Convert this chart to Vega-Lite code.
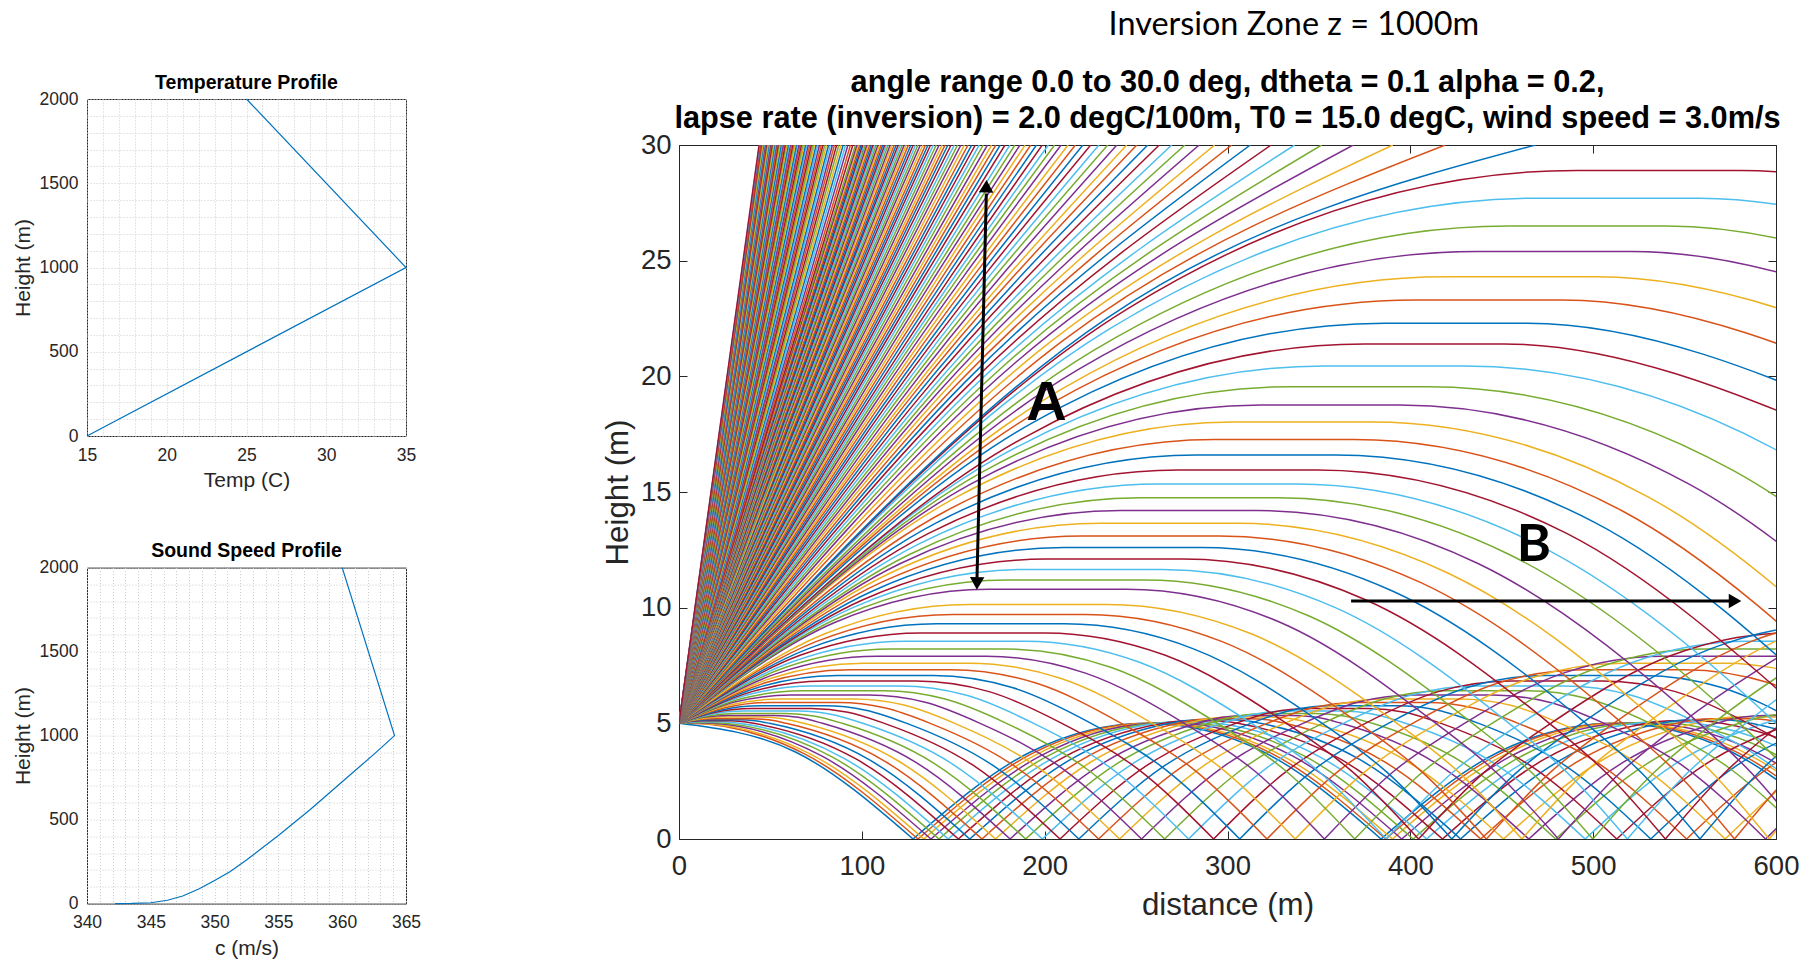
{
"$schema": "https://vega.github.io/schema/vega-lite/v6.json",
"background": "white",
"padding": {"left": 11, "top": 8, "right": 5, "bottom": 5},
"title": {"text": "Inversion Zone z = 1000m", "font": "Lato", "fontSize": 32.4, "fontWeight": "normal", "color": "black", "anchor": "start", "dx": 1097, "offset": 26},
"spacing": 179,
"config": {
  "view": {"stroke": "#262626", "strokeWidth": 1},
  "axis": {"labelFont": "Liberation Sans", "titleFont": "Liberation Sans", "labelColor": "#262626", "titleColor": "#262626", "titleFontWeight": "normal", "domain": false, "labelFlush": false, "labelOverlap": false, "tickColor": "#262626"},
  "title": {"font": "Liberation Sans", "color": "black"}
},
"hconcat": [
{"spacing": 49.6, "vconcat": [
 {"width": 319, "height": 337,
  "title": {"text": "Temperature Profile", "fontSize": 19.5, "fontWeight": "bold", "offset": -3},
  "data": {"values": [{"T":15,"h":0},{"T":35,"h":1000},{"T":25,"h":2000}]},
  "mark": {"type": "line", "color": "#0072BD", "strokeWidth": 1.2},
  "encoding": {
   "x": {"field":"T","type":"quantitative","scale":{"domain":[15,35],"nice":false,"zero":false},
    "axis":{"title":"Temp (C)","format":"d","values":[15,16,17,18,19,20,21,22,23,24,25,26,27,28,29,30,31,32,33,34,35],"labelExpr":"datum.value % 5 === 0 ? datum.label : ''","ticks":false,"grid":true,"gridColor":"#cccccc","gridDash":[1,2],"labelFontSize":17.5,"titleFontSize":21,"labelPadding":10,"titlePadding":6}},
   "y": {"field":"h","type":"quantitative","scale":{"domain":[0,2000],"nice":false},
    "axis":{"title":"Height (m)","format":"d","values":[0,100,200,300,400,500,600,700,800,900,1000,1100,1200,1300,1400,1500,1600,1700,1800,1900,2000],"labelExpr":"datum.value % 500 === 0 ? datum.label : ''","ticks":false,"grid":true,"gridColor":"#cccccc","gridDash":[1,2],"labelFontSize":17.5,"titleFontSize":21,"labelPadding":9,"titlePadding":6}},
   "order": {"field":"h","type":"quantitative"}
  }
 },
 {"width": 319, "height": 336,
  "title": {"text": "Sound Speed Profile", "fontSize": 19.5, "fontWeight": "bold", "offset": -3},
  "data": {"values": [{"c":342.2,"h":0},{"c":343.5,"h":1},{"c":345,"h":5},{"c":346.3,"h":20},{"c":347.5,"h":45},{"c":348.8,"h":88},{"c":350,"h":137},{"c":351.2,"h":190},{"c":352.5,"h":260},{"c":355,"h":405},{"c":357.5,"h":560},{"c":360,"h":725},{"c":362.5,"h":890},{"c":364.1,"h":1000},{"c":360,"h":2000}]},
  "mark": {"type": "line", "color": "#0072BD", "strokeWidth": 1.2},
  "encoding": {
   "x": {"field":"c","type":"quantitative","scale":{"domain":[340,365],"nice":false,"zero":false},
    "axis":{"title":"c (m/s)","format":"d","values":[340,341,342,343,344,345,346,347,348,349,350,351,352,353,354,355,356,357,358,359,360,361,362,363,364,365],"labelExpr":"datum.value % 5 === 0 ? datum.label : ''","ticks":false,"grid":true,"gridColor":"#cccccc","gridDash":[1,2],"labelFontSize":17.5,"titleFontSize":21,"labelPadding":10,"titlePadding":6}},
   "y": {"field":"h","type":"quantitative","scale":{"domain":[0,2000],"nice":false},
    "axis":{"title":"Height (m)","format":"d","values":[0,100,200,300,400,500,600,700,800,900,1000,1100,1200,1300,1400,1500,1600,1700,1800,1900,2000],"labelExpr":"datum.value % 500 === 0 ? datum.label : ''","ticks":false,"grid":true,"gridColor":"#cccccc","gridDash":[1,2],"labelFontSize":17.5,"titleFontSize":21,"labelPadding":9,"titlePadding":6}},
   "order": {"field":"h","type":"quantitative"}
  }
 }
]},
{"spacing": -4, "vconcat": [
 {"width": 1097, "height": 1, "view": {"stroke": null},
  "title": {"text": ["angle range 0.0 to 30.0 deg, dtheta = 0.1 alpha = 0.2,", "lapse rate (inversion) = 2.0 degC/100m, T0 = 15.0 degC, wind speed = 3.0m/s"], "orient": "bottom", "anchor": "middle", "fontSize": 30.7, "fontWeight": "bold", "lineHeight": 36, "offset": -36.6, "color": "black", "font": "Liberation Sans"},
  "data": {"values": [{"t": ""}]},
  "mark": {"type": "text"},
  "encoding": {"text": {"field": "t"}}
 },
 {"width": 1097, "height": 694,
 "resolve": {"axis": {"x": "independent", "y": "independent"}},
 "layer": [
  {"data": {"values": [
{"g":"0a","c":0,"x":[0,64,128],"y":[5,3.75,0]},
{"g":"0b","c":0,"x":[128,192,256,320,384],"y":[0,3.75,5,3.75,0]},
{"g":"0c","c":0,"x":[384,448,512,576,640],"y":[0,3.75,5,3.75,0]},
{"g":"1a","c":1,"x":[0,5.5,68.1,130.7],"y":[5,5,3.7,0]},
{"g":"1b","c":1,"x":[130.7,193.3,255.9,261.4,324,386.6],"y":[0,3.7,5,5,3.7,0]},
{"g":"1c","c":1,"x":[386.6,449.2,511.8,517.3,579.9,642.5],"y":[0,3.7,5,5,3.7,0]},
{"g":"2a","c":2,"x":[0,5.8,11.5,72.7,133.9],"y":[5,5.01,5,3.64,0]},
{"g":"2b","c":2,"x":[133.9,195.1,256.3,262.1,267.8,329,390.2],"y":[0,3.64,5,5.01,5,3.64,0]},
{"g":"2c","c":2,"x":[390.2,451.4,512.6,518.4,524.1,585.3,646.5],"y":[0,3.64,5,5.01,5,3.64,0]},
{"g":"3a","c":3,"x":[0,9,18.1,78,137.8],"y":[5,5.02,5,3.59,0]},
{"g":"3b","c":3,"x":[137.8,197.7,257.5,266.5,275.6,335.5,395.3],"y":[0,3.59,5,5.02,5,3.59,0]},
{"g":"3c","c":3,"x":[395.3,455.2,515,524,533.1,593,652.8],"y":[0,3.59,5,5.02,5,3.59,0]},
{"g":"4a","c":4,"x":[0,7.6,17.6,25.1,83.7,142.2],"y":[5,5.04,5.04,5,3.55,0]},
{"g":"4b","c":4,"x":[142.2,200.8,259.3,266.9,276.9,284.4,343,401.5],"y":[0,3.55,5,5.04,5.04,5,3.55,0]},
{"g":"4c","c":4,"x":[401.5,460.1,518.6,526.2,536.2,543.7,602.3,660.8],"y":[0,3.55,5,5.04,5.04,5,3.55,0]},
{"g":"5a","c":5,"x":[0,10.1,22.6,32.7,90,147.2],"y":[5,5.07,5.07,5,3.5,0]},
{"g":"5b","c":5,"x":[147.2,204.5,261.7,271.8,284.3,294.4,351.7,408.9],"y":[0,3.5,5,5.07,5.07,5,3.5,0]},
{"g":"5c","c":5,"x":[408.9,466.2,523.4,533.5,546,556.1,613.4,670.6],"y":[0,3.5,5,5.07,5.07,5,3.5,0]},
{"g":"6a","c":6,"x":[0,6.5,12.9,27.9,34.4,40.8,96.8,152.8],"y":[5,5.08,5.11,5.11,5.08,5,3.46,0]},
{"g":"6b","c":6,"x":[152.8,208.8,264.8,271.3,277.7,292.7,299.2,305.6,361.6,417.6],"y":[0,3.46,5,5.08,5.11,5.11,5.08,5,3.46,0]},
{"g":"6c","c":6,"x":[417.6,473.6,529.6,536.1,542.5,557.5,564,570.4,626.4,682.4],"y":[0,3.46,5,5.08,5.11,5.11,5.08,5,3.46,0]},
{"g":"7a","c":0,"x":[0,8,16,33.5,41.5,49.5,104.2,159],"y":[5,5.11,5.15,5.15,5.11,5,3.42,0]},
{"g":"7b","c":0,"x":[159,213.8,268.5,276.5,284.5,302,310,318,372.7,427.5],"y":[0,3.42,5,5.11,5.15,5.15,5.11,5,3.42,0]},
{"g":"7c","c":0,"x":[427.5,482.3,537,545,553,570.5,578.5,586.5,641.2,696],"y":[0,3.42,5,5.11,5.15,5.15,5.11,5,3.42,0]},
{"g":"8a","c":1,"x":[0,9.7,19.3,39.3,49,58.6,112.2,165.7],"y":[5,5.15,5.2,5.2,5.15,5,3.38,0]},
{"g":"8b","c":1,"x":[165.7,219.3,272.8,282.5,292.1,312.1,321.8,331.4,385,438.5],"y":[0,3.38,5,5.15,5.2,5.2,5.15,5,3.38,0]},
{"g":"8c","c":1,"x":[438.5,492.1,545.6,555.3,564.9,584.9,594.6,604.2,657.8,711.3],"y":[0,3.38,5,5.15,5.2,5.2,5.15,5,3.38,0]},
{"g":"9a","c":2,"x":[0,11.5,22.9,45.4,56.9,68.3,120.7,173.1],"y":[5,5.2,5.27,5.27,5.2,5,3.34,0]},
{"g":"9b","c":2,"x":[173.1,225.5,277.9,289.4,300.8,323.3,334.8,346.2,398.6,451],"y":[0,3.34,5,5.2,5.27,5.27,5.2,5,3.34,0]},
{"g":"9c","c":2,"x":[451,503.4,555.8,567.3,578.7,601.2,612.7],"y":[0,3.34,5,5.2,5.27,5.27,5.2]},
{"g":"10a","c":3,"x":[0,13.4,26.8,51.8,65.2,78.5,129.8,181.1],"y":[5,5.26,5.34,5.34,5.26,5,3.3,0]},
{"g":"10b","c":3,"x":[181.1,232.4,283.7,297.1,310.5,335.5,348.9,362.2,413.5,464.8],"y":[0,3.3,5,5.26,5.34,5.34,5.26,5,3.3,0]},
{"g":"10c","c":3,"x":[464.8,516.1,567.4,580.8,594.2,619.2],"y":[0,3.3,5,5.26,5.34,5.34]},
{"g":"11a","c":4,"x":[0,15.4,30.9,58.4,73.8,89.3,139.5,189.6],"y":[5,5.32,5.43,5.43,5.32,5,3.27,0]},
{"g":"11b","c":4,"x":[189.6,239.8,289.9,305.3,320.8,348.3,363.7,379.2,429.4,479.5],"y":[0,3.27,5,5.32,5.43,5.43,5.32,5,3.27,0]},
{"g":"11c","c":4,"x":[479.5,529.7,579.8,595.2,610.7],"y":[0,3.27,5,5.32,5.43]},
{"g":"12a","c":5,"x":[0,17.6,35.3,65.3,82.9,100.5,149.6,198.7],"y":[5,5.39,5.53,5.53,5.39,5,3.24,0]},
{"g":"12b","c":5,"x":[198.7,247.8,296.9,314.5,332.2,362.2,379.8,397.4,446.5,495.6],"y":[0,3.24,5,5.39,5.53,5.53,5.39,5,3.24,0]},
{"g":"12c","c":5,"x":[495.6,544.7,593.8,611.4],"y":[0,3.24,5,5.39]},
{"g":"13a","c":6,"x":[0,20,39.9,72.4,92.4,112.3,160.4,208.4],"y":[5,5.48,5.64,5.64,5.48,5,3.21,0]},
{"g":"13b","c":6,"x":[208.4,256.5,304.5,324.5,344.4,376.9,396.9,416.8,464.9,512.9],"y":[0,3.21,5,5.48,5.64,5.64,5.48,5,3.21,0]},
{"g":"13c","c":6,"x":[512.9,561,609],"y":[0,3.21,5]},
{"g":"14a","c":0,"x":[0,22.4,44.8,79.8,102.2,124.6,171.7,218.7],"y":[5,5.57,5.76,5.76,5.57,5,3.18,0]},
{"g":"14b","c":0,"x":[218.7,265.8,312.8,335.2,357.6,392.6,415,437.4,484.5,531.5],"y":[0,3.18,5,5.57,5.76,5.76,5.57,5,3.18,0]},
{"g":"14c","c":0,"x":[531.5,578.6,625.6],"y":[0,3.18,5]},
{"g":"15a","c":1,"x":[0,25,50,87.5,112.4,137.4,183.5,229.5],"y":[5,5.67,5.9,5.9,5.67,5,3.15,0]},
{"g":"15b","c":1,"x":[229.5,275.6,321.6,346.6,371.6,409.1,434.1,459,505.1,551.1],"y":[0,3.15,5,5.67,5.9,5.9,5.67,5,3.15,0]},
{"g":"15c","c":1,"x":[551.1,597.2,643.2],"y":[0,3.15,5]},
{"g":"16a","c":2,"x":[0,27.7,55.4,95.4,123.1,150.8,195.9,241],"y":[5,5.79,6.05,6.05,5.79,5,3.12,0]},
{"g":"16b","c":2,"x":[241,286.1,331.2,358.9,386.6,426.6,454.3,482,527.1,572.2],"y":[0,3.12,5,5.79,6.05,6.05,5.79,5,3.12,0]},
{"g":"16c","c":2,"x":[572.2,617.3,662.4],"y":[0,3.12,5]},
{"g":"17a","c":3,"x":[0,30.5,61.1,103.6,134.1,164.7,208.8,253],"y":[5,5.92,6.22,6.22,5.92,5,3.1,0]},
{"g":"17b","c":3,"x":[253,297.2,341.3,371.8,402.4,444.9,475.4,506,550.2,594.3],"y":[0,3.1,5,5.92,6.22,6.22,5.92,5,3.1,0]},
{"g":"17c","c":3,"x":[594.3,638.4,682.5],"y":[0,3.1,5]},
{"g":"18a","c":4,"x":[0,33.5,67,112,145.6,179.1,222.3,265.6],"y":[5,6.05,6.41,6.41,6.05,5,3.07,0]},
{"g":"18b","c":4,"x":[265.6,308.9,352.1,385.6,419.1,464.1,497.7,531.2,574.4,617.7],"y":[0,3.07,5,6.05,6.41,6.41,6.05,5,3.07,0]},
{"g":"19a","c":5,"x":[0,36.6,73.2,120.7,157.3,194,236.4,278.7],"y":[5,6.21,6.61,6.61,6.21,5,3.05,0]},
{"g":"19b","c":5,"x":[278.7,321.1,363.4,400,436.6,484.1,520.8,557.4,599.8,642.1],"y":[0,3.05,5,6.21,6.61,6.61,6.21,5,3.05,0]},
{"g":"20a","c":6,"x":[0,39.9,79.7,129.7,169.6,209.4,250.9,292.4],"y":[5,6.37,6.83,6.83,6.37,5,3.03,0]},
{"g":"20b","c":6,"x":[292.4,333.9,375.4,415.3,455.1,505.1,545,584.8,626.3,667.8],"y":[0,3.03,5,6.37,6.83,6.83,6.37,5,3.03,0]},
{"g":"21a","c":0,"x":[0,43.2,86.5,139,182.2,225.4,266.1,306.7],"y":[5,6.55,7.07,7.07,6.55,5,3,0]},
{"g":"21b","c":0,"x":[306.7,347.4,388,431.2,474.5,527,570.2,613.4],"y":[0,3,5,6.55,7.07,7.07,6.55,5]},
{"g":"22a","c":1,"x":[0,46.7,93.5,148.5,195.2,241.9,281.8,321.6],"y":[5,6.74,7.32,7.32,6.74,5,2.99,0]},
{"g":"22b","c":1,"x":[321.6,361.5,401.3,448,494.8,549.8,596.5,643.2],"y":[0,2.99,5,6.74,7.32,7.32,6.74,5]},
{"g":"23a","c":2,"x":[0,50.4,100.7,158.2,208.6,258.9,298,337],"y":[5,6.95,7.6,7.6,6.95,5,2.97,0]},
{"g":"23b","c":2,"x":[337,376.1,415.1,465.5,515.8,573.3,623.7],"y":[0,2.97,5,6.95,7.6,7.6,6.95]},
{"g":"24a","c":3,"x":[0,54.1,108.2,168.2,222.3,276.4,314.7,353],"y":[5,7.17,7.9,7.9,7.17,5,2.95,0]},
{"g":"24b","c":3,"x":[353,391.3,429.6,483.7,537.8,597.8,651.9],"y":[0,2.95,5,7.17,7.9,7.9,7.17]},
{"g":"25a","c":4,"x":[0,58,116,178.5,236.5,294.5,332.1,369.6],"y":[5,7.41,8.21,8.21,7.41,5,2.93,0]},
{"g":"25b","c":4,"x":[369.6,407.2,444.7,502.7,560.7,623.2],"y":[0,2.93,5,7.41,8.21,8.21]},
{"g":"26a","c":5,"x":[0,62,124.1,189.1,251.1,313.1,350,386.8],"y":[5,7.66,8.55,8.55,7.66,5,2.92,0]},
{"g":"26b","c":5,"x":[386.8,423.7,460.5,522.5,584.6,649.6],"y":[0,2.92,5,7.66,8.55,8.55]},
{"g":"27a","c":6,"x":[0,66.2,132.4,199.9,266,332.2,368.4,404.5],"y":[5,7.94,8.91,8.91,7.94,5,2.9,0]},
{"g":"27b","c":6,"x":[404.5,440.7,476.8,543,609.2,676.7],"y":[0,2.9,5,7.94,8.91,8.91]},
{"g":"28a","c":0,"x":[0,70.5,140.9,210.9,281.4,351.8,387.3,422.7],"y":[5,8.22,9.3,9.3,8.22,5,2.88,0]},
{"g":"28b","c":0,"x":[422.7,458.2,493.6,564.1,634.5,704.5],"y":[0,2.88,5,8.22,9.3,9.3]},
{"g":"29a","c":1,"x":[0,74.9,149.8,222.3,297.1,372,406.8,441.6],"y":[5,8.53,9.71,9.71,8.53,5,2.87,0]},
{"g":"29b","c":1,"x":[441.6,476.4,511.2,586.1,661],"y":[0,2.87,5,8.53,9.71]},
{"g":"30a","c":2,"x":[0,79.4,158.8,233.8,313.3,392.7,426.9,461],"y":[5,8.86,10.14,10.14,8.86,5,2.86,0]},
{"g":"30b","c":2,"x":[461,495.2,529.3,608.7,688.1],"y":[0,2.86,5,8.86,10.14]},
{"g":"31a","c":3,"x":[0,84.8,169.5,244.5,329.3,414,447.5,481],"y":[5,9.35,10.8,10.8,9.35,5,2.84,0]},
{"g":"31b","c":3,"x":[481,514.5,548,632.8],"y":[0,2.84,5,9.35]},
{"g":"32a","c":4,"x":[0,89.8,179.5,254.5,344.3,434,466.9,499.8],"y":[5,9.65,11.2,11.2,9.65,5,2.83,0]},
{"g":"32b","c":4,"x":[499.8,532.7,565.6,655.4],"y":[0,2.83,5,9.65]},
{"g":"33a","c":5,"x":[0,94.8,189.5,264.5,359.3,454,486.4,518.7],"y":[5,9.99,11.65,11.65,9.99,5,2.82,0]},
{"g":"33b","c":5,"x":[518.7,551.1,583.4,678.2],"y":[0,2.82,5,9.99]},
{"g":"34a","c":6,"x":[0,100.3,200.5,275.5,375.8,476,507.8,539.5],"y":[5,10.33,12.1,12.1,10.33,5,2.81,0]},
{"g":"34b","c":6,"x":[539.5,571.3,603,703.3],"y":[0,2.81,5,10.33]},
{"g":"35a","c":0,"x":[0,105.3,210.5,285.5,390.8,496,527.2,558.4],"y":[5,10.7,12.6,12.6,10.7,5,2.8,0]},
{"g":"35b","c":0,"x":[558.4,589.6,620.8,726],"y":[0,2.8,5,10.7]},
{"g":"36a","c":1,"x":[0,110.3,220.5,295.5,405.8,516,546.7,577.3],"y":[5,11.08,13.1,13.1,11.08,5,2.79,0]},
{"g":"36b","c":1,"x":[577.3,607.9,638.5],"y":[0,2.79,5]},
{"g":"37a","c":2,"x":[0,115.3,230.5,305.5,420.8,536,566.2,596.3],"y":[5,11.49,13.65,13.65,11.49,5,2.78,0]},
{"g":"37b","c":2,"x":[596.3,626.5,656.7],"y":[0,2.78,5]},
{"g":"38a","c":3,"x":[0,120.8,241.5,316.5,437.3,558,587.6,617.2],"y":[5,11.9,14.2,14.2,11.9,5,2.77,0]},
{"g":"39a","c":4,"x":[0,126.3,252.5,327.5,453.8,580,609.1,638.2],"y":[5,12.31,14.75,14.75,12.31,5,2.76,0]},
{"g":"40a","c":5,"x":[0,131.3,262.5,337.5,468.8,600,628.7],"y":[5,12.76,15.35,15.35,12.76,5,2.75]},
{"g":"41a","c":6,"x":[0,136.5,273,349,485.5,622],"y":[5,13.21,15.95,15.95,13.21,5]},
{"g":"42a","c":0,"x":[0,141.5,283,359,500.5,642],"y":[5,13.7,16.6,16.6,13.7,5]},
{"g":"43a","c":1,"x":[0,146.5,293,369,515.5,662],"y":[5,14.2,17.27,17.27,14.2,5]},
{"g":"44a","c":2,"x":[0,151.5,303,379,530.5,682],"y":[5,14.77,18.03,18.03,14.77,5]},
{"g":"45a","c":3,"x":[0,159,318,394,553,712],"y":[5,15.32,18.76,18.76,15.32,5]},
{"g":"46a","c":4,"x":[0,167,334,410,577,744],"y":[5,15.91,19.55,19.55,15.91,5]},
{"g":"47a","c":5,"x":[0,176.5,353,429,605.5,782],"y":[5,16.59,20.45,20.45,16.59,5]},
{"g":"48a","c":6,"x":[0,187.5,375,451,638.5],"y":[5,17.3,21.4,21.4,17.3]},
{"g":"49a","c":0,"x":[0,193,386,464,657],"y":[5,17.98,22.3,22.3,17.98]},
{"g":"50a","c":1,"x":[0,201.5,403,483,684.5],"y":[5,18.73,23.3,23.3,18.73]},
{"g":"51a","c":2,"x":[0,210,420,502,712],"y":[5,19.48,24.3,24.3,19.48]},
{"g":"52a","c":3,"x":[0,218.5,437,521,739.5],"y":[5,20.3,25.4,25.4,20.3]},
{"g":"53a","c":4,"x":[0,227,454,540,767],"y":[5,21.13,26.5,26.5,21.13]},
{"g":"54a","c":5,"x":[0,235,470,558,793],"y":[5,22.03,27.7,27.7,22.03]},
{"g":"55a","c":6,"x":[0,245.5,491,581,826.5],"y":[5,22.93,28.9,28.9,22.93]},
{"g":"e56","c":0,"x":[0,234.3,468.5],"y":[5,22.53,30]},
{"g":"e57","c":1,"x":[0,209.6,419.1],"y":[5,21.52,30]},
{"g":"e58","c":2,"x":[0,195.2,390.4],"y":[5,20.99,30]},
{"g":"e59","c":3,"x":[0,184.4,368.8],"y":[5,20.62,30]},
{"g":"e60","c":4,"x":[0,175.8,351.5],"y":[5,20.33,30]},
{"g":"e61","c":5,"x":[0,168.4,336.7],"y":[5,20.1,30]},
{"g":"e62","c":6,"x":[0,162,323.9],"y":[5,19.9,30]},
{"g":"e63","c":0,"x":[0,156.3,312.5],"y":[5,19.74,30]},
{"g":"e64","c":1,"x":[0,151.2,302.3],"y":[5,19.59,30]},
{"g":"e65","c":2,"x":[0,146.5,293],"y":[5,19.47,30]},
{"g":"e66","c":3,"x":[0,142.3,284.5],"y":[5,19.35,30]},
{"g":"e67","c":4,"x":[0,138.4,276.7],"y":[5,19.25,30]},
{"g":"e68","c":5,"x":[0,134.8,269.5],"y":[5,19.16,30]},
{"g":"e69","c":6,"x":[0,131.4,262.7],"y":[5,19.08,30]},
{"g":"e70","c":0,"x":[0,128.2,256.4],"y":[5,19.01,30]},
{"g":"e71","c":1,"x":[0,125.2,250.4],"y":[5,18.94,30]},
{"g":"e72","c":2,"x":[0,122.5,244.9],"y":[5,18.87,30]},
{"g":"e73","c":3,"x":[0,119.8,239.5],"y":[5,18.81,30]},
{"g":"e74","c":4,"x":[0,117.3,234.5],"y":[5,18.76,30]},
{"g":"e75","c":5,"x":[0,114.9,229.7],"y":[5,18.71,30]},
{"g":"e76","c":6,"x":[0,112.6,225.2],"y":[5,18.66,30]},
{"g":"e77","c":0,"x":[0,110.5,220.9],"y":[5,18.62,30]},
{"g":"e78","c":1,"x":[0,108.4,216.8],"y":[5,18.58,30]},
{"g":"e79","c":2,"x":[0,106.4,212.8],"y":[5,18.54,30]},
{"g":"e80","c":3,"x":[0,104.5,209],"y":[5,18.5,30]},
{"g":"e81","c":4,"x":[0,102.7,205.4],"y":[5,18.47,30]},
{"g":"e82","c":5,"x":[0,101,202],"y":[5,18.43,30]},
{"g":"e83","c":6,"x":[0,99.4,198.7],"y":[5,18.4,30]},
{"g":"e84","c":0,"x":[0,97.8,195.5],"y":[5,18.38,30]},
{"g":"e85","c":1,"x":[0,96.2,192.4],"y":[5,18.35,30]},
{"g":"e86","c":2,"x":[0,94.7,189.3],"y":[5,18.32,30]},
{"g":"e87","c":3,"x":[0,93.3,186.5],"y":[5,18.3,30]},
{"g":"e88","c":4,"x":[0,91.9,183.7],"y":[5,18.27,30]},
{"g":"e89","c":5,"x":[0,90.5,181],"y":[5,18.25,30]},
{"g":"e90","c":6,"x":[0,89.2,178.3],"y":[5,18.23,30]},
{"g":"e91","c":0,"x":[0,87.9,175.7],"y":[5,18.21,30]},
{"g":"e92","c":1,"x":[0,86.7,173.3],"y":[5,18.19,30]},
{"g":"e93","c":2,"x":[0,85.5,171],"y":[5,18.17,30]},
{"g":"e94","c":3,"x":[0,84.4,168.7],"y":[5,18.15,30]},
{"g":"e95","c":4,"x":[0,83.2,166.4],"y":[5,18.13,30]},
{"g":"e96","c":5,"x":[0,82.1,164.2],"y":[5,18.12,30]},
{"g":"e97","c":6,"x":[0,81.1,162.1],"y":[5,18.1,30]},
{"g":"e98","c":0,"x":[0,80.1,160.1],"y":[5,18.09,30]},
{"g":"e99","c":1,"x":[0,79.1,158.1],"y":[5,18.07,30]},
{"g":"e100","c":2,"x":[0,78.1,156.1],"y":[5,18.06,30]},
{"g":"e101","c":3,"x":[0,77.1,154.2],"y":[5,18.04,30]},
{"g":"e102","c":4,"x":[0,76.2,152.4],"y":[5,18.03,30]},
{"g":"e103","c":5,"x":[0,75.3,150.6],"y":[5,18.02,30]},
{"g":"e104","c":6,"x":[0,74.4,148.8],"y":[5,18.01,30]},
{"g":"e105","c":0,"x":[0,73.6,147.1],"y":[5,18,30]},
{"g":"e106","c":1,"x":[0,72.8,145.5],"y":[5,17.98,30]},
{"g":"e107","c":2,"x":[0,72,143.9],"y":[5,17.97,30]},
{"g":"e108","c":3,"x":[0,71.2,142.3],"y":[5,17.96,30]},
{"g":"e109","c":4,"x":[0,70.4,140.7],"y":[5,17.95,30]},
{"g":"e110","c":5,"x":[0,69.6,139.1],"y":[5,17.94,30]},
{"g":"e111","c":6,"x":[0,68.8,137.6],"y":[5,17.93,30]},
{"g":"e112","c":0,"x":[0,68.1,136.2],"y":[5,17.92,30]},
{"g":"e113","c":1,"x":[0,67.4,134.8],"y":[5,17.92,30]},
{"g":"e114","c":2,"x":[0,66.7,133.4],"y":[5,17.91,30]},
{"g":"e115","c":3,"x":[0,66,132],"y":[5,17.9,30]},
{"g":"e116","c":4,"x":[0,65.4,130.7],"y":[5,17.89,30]},
{"g":"e117","c":5,"x":[0,64.7,129.4],"y":[5,17.88,30]},
{"g":"e118","c":6,"x":[0,64.1,128.1],"y":[5,17.88,30]},
{"g":"e119","c":0,"x":[0,63.4,126.8],"y":[5,17.87,30]},
{"g":"e120","c":1,"x":[0,62.8,125.5],"y":[5,17.86,30]},
{"g":"e121","c":2,"x":[0,62.2,124.3],"y":[5,17.85,30]},
{"g":"e122","c":3,"x":[0,61.6,123.2],"y":[5,17.85,30]},
{"g":"e123","c":4,"x":[0,61.1,122.1],"y":[5,17.84,30]},
{"g":"e124","c":5,"x":[0,60.5,121],"y":[5,17.84,30]},
{"g":"e125","c":6,"x":[0,60,119.9],"y":[5,17.83,30]},
{"g":"e126","c":0,"x":[0,59.4,118.8],"y":[5,17.82,30]},
{"g":"e127","c":1,"x":[0,58.9,117.7],"y":[5,17.82,30]},
{"g":"e128","c":2,"x":[0,58.3,116.5],"y":[5,17.81,30]},
{"g":"e129","c":3,"x":[0,57.8,115.5],"y":[5,17.81,30]},
{"g":"e130","c":4,"x":[0,57.2,114.4],"y":[5,17.8,30]},
{"g":"e131","c":5,"x":[0,56.7,113.4],"y":[5,17.79,30]},
{"g":"e132","c":6,"x":[0,56.3,112.5],"y":[5,17.79,30]},
{"g":"e133","c":0,"x":[0,55.8,111.5],"y":[5,17.78,30]},
{"g":"e134","c":1,"x":[0,55.3,110.6],"y":[5,17.78,30]},
{"g":"e135","c":2,"x":[0,54.9,109.7],"y":[5,17.78,30]},
{"g":"e136","c":3,"x":[0,54.4,108.8],"y":[5,17.77,30]},
{"g":"e137","c":4,"x":[0,54,107.9],"y":[5,17.77,30]},
{"g":"e138","c":5,"x":[0,53.5,107],"y":[5,17.76,30]},
{"g":"e139","c":6,"x":[0,53.1,106.1],"y":[5,17.76,30]},
{"g":"e140","c":0,"x":[0,52.6,105.2],"y":[5,17.75,30]},
{"g":"e141","c":1,"x":[0,52.2,104.3],"y":[5,17.75,30]},
{"g":"e142","c":2,"x":[0,51.8,103.5],"y":[5,17.75,30]},
{"g":"e143","c":3,"x":[0,51.4,102.7],"y":[5,17.74,30]},
{"g":"e144","c":4,"x":[0,51,101.9],"y":[5,17.74,30]},
{"g":"e145","c":5,"x":[0,50.6,101.1],"y":[5,17.73,30]},
{"g":"e146","c":6,"x":[0,50.2,100.4],"y":[5,17.73,30]},
{"g":"e147","c":0,"x":[0,49.8,99.6],"y":[5,17.73,30]},
{"g":"e148","c":1,"x":[0,49.4,98.8],"y":[5,17.72,30]},
{"g":"e149","c":2,"x":[0,49,98],"y":[5,17.72,30]},
{"g":"e150","c":3,"x":[0,48.7,97.3],"y":[5,17.72,30]},
{"g":"e151","c":4,"x":[0,48.3,96.5],"y":[5,17.71,30]},
{"g":"e153","c":6,"x":[0,95.1],"y":[5,30]},
{"g":"e155","c":1,"x":[0,93.8],"y":[5,30]},
{"g":"e157","c":3,"x":[0,92.4],"y":[5,30]},
{"g":"e159","c":5,"x":[0,91.1],"y":[5,30]},
{"g":"e161","c":0,"x":[0,89.8],"y":[5,30]},
{"g":"e163","c":2,"x":[0,88.6],"y":[5,30]},
{"g":"e165","c":4,"x":[0,87.4],"y":[5,30]},
{"g":"e167","c":6,"x":[0,86.2],"y":[5,30]},
{"g":"e169","c":1,"x":[0,85],"y":[5,30]},
{"g":"e171","c":3,"x":[0,83.9],"y":[5,30]},
{"g":"e173","c":5,"x":[0,82.8],"y":[5,30]},
{"g":"e175","c":0,"x":[0,81.8],"y":[5,30]},
{"g":"e177","c":2,"x":[0,80.7],"y":[5,30]},
{"g":"e179","c":4,"x":[0,79.7],"y":[5,30]},
{"g":"e181","c":6,"x":[0,78.7],"y":[5,30]},
{"g":"e183","c":1,"x":[0,77.8],"y":[5,30]},
{"g":"e185","c":3,"x":[0,76.8],"y":[5,30]},
{"g":"e187","c":5,"x":[0,75.9],"y":[5,30]},
{"g":"e189","c":0,"x":[0,75],"y":[5,30]},
{"g":"e191","c":2,"x":[0,74.1],"y":[5,30]},
{"g":"e193","c":4,"x":[0,73.3],"y":[5,30]},
{"g":"e195","c":6,"x":[0,72.4],"y":[5,30]},
{"g":"e197","c":1,"x":[0,71.6],"y":[5,30]},
{"g":"e199","c":3,"x":[0,70.7],"y":[5,30]},
{"g":"e201","c":5,"x":[0,69.9],"y":[5,30]},
{"g":"e203","c":0,"x":[0,69.2],"y":[5,30]},
{"g":"e205","c":2,"x":[0,68.4],"y":[5,30]},
{"g":"e207","c":4,"x":[0,67.7],"y":[5,30]},
{"g":"e209","c":6,"x":[0,66.9],"y":[5,30]},
{"g":"e211","c":1,"x":[0,66.2],"y":[5,30]},
{"g":"e213","c":3,"x":[0,65.5],"y":[5,30]},
{"g":"e215","c":5,"x":[0,64.8],"y":[5,30]},
{"g":"e217","c":0,"x":[0,64.2],"y":[5,30]},
{"g":"e219","c":2,"x":[0,63.5],"y":[5,30]},
{"g":"e221","c":4,"x":[0,62.8],"y":[5,30]},
{"g":"e223","c":6,"x":[0,62.2],"y":[5,30]},
{"g":"e225","c":1,"x":[0,61.6],"y":[5,30]},
{"g":"e227","c":3,"x":[0,60.9],"y":[5,30]},
{"g":"e229","c":5,"x":[0,60.3],"y":[5,30]},
{"g":"e231","c":0,"x":[0,59.7],"y":[5,30]},
{"g":"e233","c":2,"x":[0,59.1],"y":[5,30]},
{"g":"e235","c":4,"x":[0,58.5],"y":[5,30]},
{"g":"e237","c":6,"x":[0,58],"y":[5,30]},
{"g":"e239","c":1,"x":[0,57.4],"y":[5,30]},
{"g":"e241","c":3,"x":[0,56.8],"y":[5,30]},
{"g":"e243","c":5,"x":[0,56.3],"y":[5,30]},
{"g":"e245","c":0,"x":[0,55.8],"y":[5,30]},
{"g":"e247","c":2,"x":[0,55.2],"y":[5,30]},
{"g":"e249","c":4,"x":[0,54.7],"y":[5,30]},
{"g":"e251","c":6,"x":[0,54.2],"y":[5,30]},
{"g":"e253","c":1,"x":[0,53.7],"y":[5,30]},
{"g":"e255","c":3,"x":[0,53.2],"y":[5,30]},
{"g":"e257","c":5,"x":[0,52.8],"y":[5,30]},
{"g":"e259","c":0,"x":[0,52.3],"y":[5,30]},
{"g":"e261","c":2,"x":[0,51.8],"y":[5,30]},
{"g":"e263","c":4,"x":[0,51.3],"y":[5,30]},
{"g":"e265","c":6,"x":[0,50.9],"y":[5,30]},
{"g":"e267","c":1,"x":[0,50.4],"y":[5,30]},
{"g":"e269","c":3,"x":[0,50],"y":[5,30]},
{"g":"e271","c":5,"x":[0,49.5],"y":[5,30]},
{"g":"e273","c":0,"x":[0,49.1],"y":[5,30]},
{"g":"e275","c":2,"x":[0,48.7],"y":[5,30]},
{"g":"e277","c":4,"x":[0,48.2],"y":[5,30]},
{"g":"e279","c":6,"x":[0,47.8],"y":[5,30]},
{"g":"e281","c":1,"x":[0,47.4],"y":[5,30]},
{"g":"e283","c":3,"x":[0,47],"y":[5,30]},
{"g":"e285","c":5,"x":[0,46.6],"y":[5,30]},
{"g":"e287","c":0,"x":[0,46.2],"y":[5,30]},
{"g":"e289","c":2,"x":[0,45.8],"y":[5,30]},
{"g":"e291","c":4,"x":[0,45.4],"y":[5,30]},
{"g":"e293","c":6,"x":[0,45],"y":[5,30]},
{"g":"e295","c":1,"x":[0,44.7],"y":[5,30]},
{"g":"e297","c":3,"x":[0,44.3],"y":[5,30]},
{"g":"e299","c":5,"x":[0,44],"y":[5,30]},
{"g":"e300","c":6,"x":[0,43.8],"y":[5,30]}
   ]},
   "transform": [{"flatten": ["x","y"]}],
   "mark": {"type": "line", "interpolate": "monotone", "strokeWidth": 1.5, "clip": true},
   "encoding": {
    "x": {"field":"x","type":"quantitative","scale":{"domain":[0,600],"nice":false,"zero":false},
     "axis":{"title":"distance (m)","values":[0,100,200,300,400,500,600],"labelFontSize":27.5,"titleFontSize":31.3,"tickSize":-8,"labelPadding":21,"titlePadding":10,"grid":false}},
    "y": {"field":"y","type":"quantitative","scale":{"domain":[0,30],"nice":false},
     "axis":{"title":"Height (m)","values":[0,5,10,15,20,25,30],"labelFontSize":27.5,"titleFontSize":31.3,"tickSize":-8,"labelPadding":16,"titlePadding":6,"grid":false}},
    "color": {"field":"c","type":"nominal","scale":{"domain":[0,1,2,3,4,5,6],"range":["#0072BD","#D95319","#EDB120","#7E2F8E","#77AC30","#4DBEEE","#A2142F"]},"legend":null},
    "detail": {"field":"g","type":"nominal"}
   }
  },
  {"data": {"values": [{"x":163,"y":11.3,"x2":168.1,"y2":27.9},{"x":367.6,"y":10.29,"x2":577,"y2":10.29}]},
   "mark": {"type":"rule","strokeWidth":3,"color":"black"},
   "encoding": {
    "x": {"field":"x","type":"quantitative","scale":{"domain":[0,600],"nice":false,"zero":false},"axis":{"orient":"top","values":[0,100,200,300,400,500,600],"labels":false,"title":null,"tickSize":-8,"grid":false}},
    "y": {"field":"y","type":"quantitative","scale":{"domain":[0,30],"nice":false},"axis":{"orient":"right","values":[0,5,10,15,20,25,30],"labels":false,"title":null,"tickSize":-8,"grid":false}},
    "x2": {"field":"x2"},
    "y2": {"field":"y2"}
   }
  },
  {"data": {"values": [{"x":168.1,"y":28.22,"a":1.4},{"x":163,"y":11.05,"a":181.4},{"x":577.6,"y":10.29,"a":90}]},
   "mark": {"type":"point","shape":"triangle-up","filled":true,"color":"black","size":210,"opacity":1,"strokeWidth":0},
   "encoding": {
    "x": {"field":"x","type":"quantitative","axis":null},
    "y": {"field":"y","type":"quantitative","axis":null},
    "angle": {"field":"a","type":"quantitative","scale":null}
   }
  },
  {"data": {"values": [{"x":201,"y":18.85,"t":"A"}]},
   "mark": {"type":"text","font":"Liberation Sans","fontWeight":"bold","fontSize":56,"color":"black","baseline":"middle","align":"center"},
   "encoding": {
    "x": {"field":"x","type":"quantitative","axis":null},
    "y": {"field":"y","type":"quantitative","axis":null},
    "text": {"field":"t"}
   }
  },
  {"data": {"values": [{"x":467.6,"y":12.7,"t":"B"}]},
   "mark": {"type":"text","font":"Lato","fontWeight":"bold","fontSize":52,"color":"black","baseline":"middle","align":"center"},
   "encoding": {
    "x": {"field":"x","type":"quantitative","axis":null},
    "y": {"field":"y","type":"quantitative","axis":null},
    "text": {"field":"t"}
   }
  }
 ]
}
]}
]
}
